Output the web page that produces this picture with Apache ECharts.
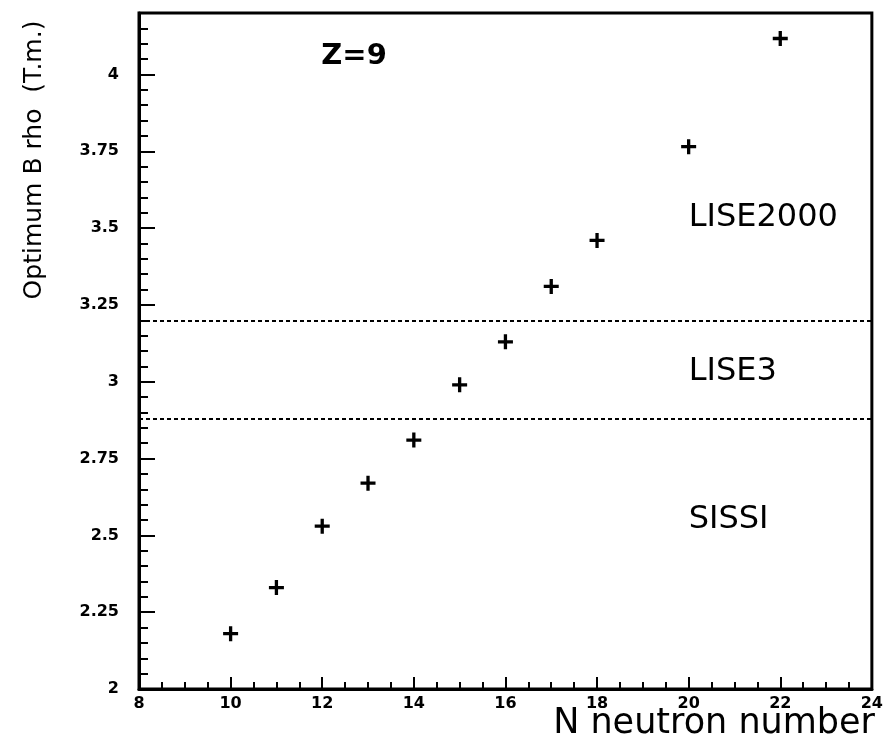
<!DOCTYPE html>
<html>
<head>
<meta charset="utf-8">
<script src="https://cdn.jsdelivr.net/npm/echarts@6/dist/echarts.min.js"></script>
<style>
  html, body { margin: 0; padding: 0; background: #fff; }
  #main { width: 886px; height: 741px; }
</style>
</head>
<body>
<div id="main"></div>
<script>
// neutron number vs optimum B rho, Z=9
var neutrons = [10, 11, 12, 13, 14, 15, 16, 17, 18, 20, 22];
var brho = [2.18, 2.33, 2.53, 2.67, 2.81, 2.99, 3.13, 3.31, 3.46, 3.765, 4.117];

// separation lines between spectrometers
var limits = [3.2, 2.88];

// text placed in data coordinates
var notes = [
    [11.98, 4.06, 'Z=9', 'bold', 29],
    [20.0, 3.534, 'LISE2000', 'normal', 32],
    [20.0, 3.033, 'LISE3', 'normal', 32],
    [20.0, 2.55, 'SISSI', 'normal', 32]
];

var points = neutrons.map(function (n, i) {
    return [n, brho[i]];
});

var plus = 'path://M-1.1,-5 L1.1,-5 L1.1,-1.1 L5,-1.1 L5,1.1 L1.1,1.1 L1.1,5 L-1.1,5 L-1.1,1.1 L-5,1.1 L-5,-1.1 L-1.1,-1.1 Z';

var chart = echarts.init(document.getElementById('main'));
chart.setOption({
    animation: false,
    backgroundColor: '#fff',
    textStyle: { fontFamily: 'DejaVu Sans' },
    title: {
        text: 'N neutron number',
        right: 6,
        bottom: -5,
        textStyle: { fontSize: 35, fontWeight: 'normal', color: '#000', fontFamily: 'DejaVu Sans' }
    },
    graphic: [{
        type: 'text',
        x: 34,
        y: 160,
        rotation: Math.PI / 2,
        style: {
            text: 'Optimum B rho  (T.m.)',
            font: '25px "DejaVu Sans"',
            fill: '#000',
            align: 'center',
            verticalAlign: 'middle'
        }
    }],
    grid: {
        left: 139,
        right: 13,
        top: 13,
        bottom: 52,
        show: true,
        borderColor: '#000',
        borderWidth: 3,
        backgroundColor: 'transparent'
    },
    xAxis: {
        type: 'value',
        min: 8,
        max: 24,
        interval: 2,
        axisLine: { show: true, onZero: false, lineStyle: { color: '#000', width: 3 } },
        axisTick: { show: true, inside: true, length: 12, lineStyle: { color: '#000', width: 2 } },
        minorTick: { show: true, splitNumber: 4, length: 7, lineStyle: { color: '#000', width: 2 } },
        splitLine: { show: false },
        axisLabel: { color: '#000', fontSize: 16, fontWeight: 'bold', fontFamily: 'DejaVu Sans', margin: 7 }
    },
    yAxis: {
        type: 'value',
        min: 2,
        max: 4.2,
        interval: 0.25,
        axisLine: { show: true, onZero: false, lineStyle: { color: '#000', width: 3 } },
        axisTick: { show: true, inside: true, length: 16, lineStyle: { color: '#000', width: 2 } },
        minorTick: { show: true, splitNumber: 5, length: 9, lineStyle: { color: '#000', width: 2 } },
        splitLine: { show: false },
        axisLabel: { color: '#000', fontSize: 16, fontWeight: 'bold', fontFamily: 'DejaVu Sans', margin: 20, showMaxLabel: false }
    },
    series: [
        {
            name: 'Brho',
            type: 'scatter',
            data: points,
            symbol: plus,
            symbolSize: 15,
            itemStyle: { color: '#000', opacity: 1 },
            markLine: {
                silent: true,
                symbol: ['none', 'none'],
                label: { show: false },
                lineStyle: { color: '#000', type: [4, 3], width: 2, opacity: 1 },
                data: limits.map(function (v) { return { yAxis: v }; })
            }
        },
        {
            name: 'notes',
            type: 'scatter',
            symbolSize: 0,
            silent: true,
            itemStyle: { color: '#000', opacity: 1 },
            data: notes.map(function (d) {
                return {
                    value: [d[0], d[1]],
                    label: { formatter: d[2], fontWeight: d[3], fontSize: d[4], color: '#000' }
                };
            }),
            label: {
                show: true,
                position: 'right',
                distance: 0,
                align: 'left',
                verticalAlign: 'middle',
                color: '#000',
                fontFamily: 'DejaVu Sans'
            }
        }
    ]
});
</script>
</body>
</html>
